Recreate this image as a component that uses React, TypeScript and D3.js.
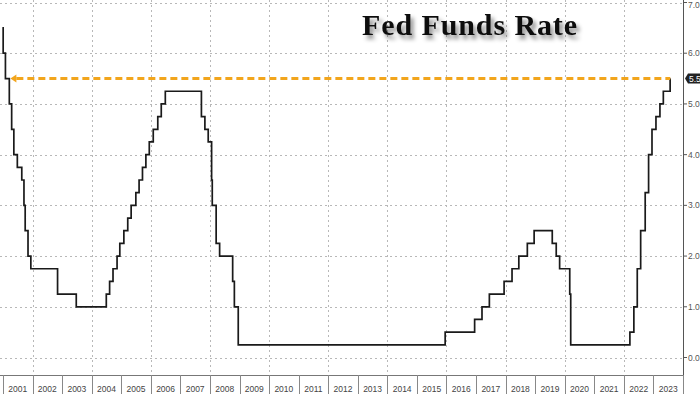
import React from 'react';
import * as d3 from 'd3';

// Fed funds target (upper bound), date of each change and the new rate
const changeDates = [
  '2000-12-24', '2001-01-03', '2001-01-31', '2001-03-20', '2001-04-18', '2001-05-15', '2001-06-27',
  '2001-08-21', '2001-09-17', '2001-10-02', '2001-11-06', '2001-12-11', '2002-11-06', '2003-06-25',
  '2004-06-30', '2004-08-10', '2004-09-21', '2004-11-10', '2004-12-14', '2005-02-02', '2005-03-22',
  '2005-05-03', '2005-06-30', '2005-08-09', '2005-09-20', '2005-11-01', '2005-12-13', '2006-01-31',
  '2006-03-28', '2006-05-10', '2006-06-29', '2007-09-18', '2007-10-31', '2007-12-11', '2008-01-22',
  '2008-01-30', '2008-03-18', '2008-04-30', '2008-10-08', '2008-10-29', '2008-12-16', '2015-12-16',
  '2016-12-14', '2017-03-15', '2017-06-14', '2017-12-13', '2018-03-21', '2018-06-13', '2018-09-26',
  '2018-12-19', '2019-07-31', '2019-09-18', '2019-10-30', '2020-03-03', '2020-03-15', '2022-03-16',
  '2022-05-04', '2022-06-15', '2022-07-27', '2022-09-21', '2022-11-02', '2022-12-14', '2023-02-01',
  '2023-03-22', '2023-05-03', '2023-07-26',
];
const rates = [
  6.5, 6.0, 5.5, 5.0, 4.5, 4.0, 3.75,
  3.5, 3.0, 2.5, 2.0, 1.75, 1.25, 1.0,
  1.25, 1.5, 1.75, 2.0, 2.25, 2.5, 2.75,
  3.0, 3.25, 3.5, 3.75, 4.0, 4.25, 4.5,
  4.75, 5.0, 5.25, 4.75, 4.5, 4.25, 3.5,
  3.0, 2.25, 2.0, 1.5, 1.0, 0.25, 0.5,
  0.75, 1.0, 1.25, 1.5, 1.75, 2.0, 2.25,
  2.5, 2.25, 2.0, 1.75, 1.25, 0.25, 0.5,
  1.0, 1.75, 2.5, 3.25, 4.0, 4.5, 4.75,
  5.0, 5.25, 5.5,
];
const lastDate = '2023-07-27';
const years = d3.range(2001, 2024);
const yTicks = [0, 1, 2, 3, 4, 5, 6, 7];
const currentRate = 5.5;
const title = 'Fed Funds Rate';

const W = 700;
const H = 394;
const plotRight = 683;
const axisY = 375;

const App = () => {
  const parse = d3.timeParse('%Y-%m-%d');
  const x = d3.scaleTime()
    .domain([new Date(2001, 0, 1), new Date(2024, 0, 1)])
    .range([3, plotRight]);
  const y = d3.scaleLinear().domain([0, 7]).range([357.5, 2.5]);

  const data = changeDates.map((d, i) => ({ date: parse(d) as Date, rate: rates[i] }));
  data.push({ date: parse(lastDate) as Date, rate: rates[rates.length - 1] });

  const line = d3.line<{ date: Date; rate: number }>()
    .x(d => x(d.date))
    .y(d => y(d.rate))
    .curve(d3.curveStepAfter);

  const yr = (v: number) => x(new Date(v, 0, 1));
  const dashStart = x(parse('2001-06-15') as Date);
  const dashEnd = x(parse(lastDate) as Date);
  const yCur = y(currentRate);

  return (
    <svg width={W} height={H} style={{ position: 'absolute', left: 0, top: 0, background: '#fff' }}>
      <defs>
        <filter id="shadow" x="-10%" y="-30%" width="130%" height="180%">
          <feDropShadow dx="3" dy="4" stdDeviation="2" floodColor="#000" floodOpacity="0.45" />
        </filter>
        <filter id="glow" x="-5%" y="-200%" width="110%" height="500%">
          <feGaussianBlur stdDeviation="0.6" />
        </filter>
      </defs>

      {/* grid */}
      <g stroke="#b8b8b8" strokeWidth={1} strokeDasharray="2,3">
        {yTicks.map(t => (
          <line key={t} x1={0} x2={plotRight} y1={Math.round(y(t)) + 0.5} y2={Math.round(y(t)) + 0.5} />
        ))}
        {years.filter(v => v % 2 === 0).map(v => (
          <line key={v} x1={Math.round(yr(v)) + 0.5} x2={Math.round(yr(v)) + 0.5} y1={0} y2={axisY} />
        ))}
      </g>

      {/* title */}
      <text x={362} y={35} fontFamily="'Liberation Serif', serif" fontWeight="bold" fontSize={30}
        letterSpacing={0.9} fill="#111" filter="url(#shadow)">{title}</text>

      {/* rate line */}
      <path d={line(data) || ''} fill="none" stroke="#1a1a1a" strokeWidth={1.7} />

      {/* current level dashed marker */}
      <g filter="url(#glow)">
        <line x1={dashStart} x2={dashEnd} y1={yCur} y2={yCur} stroke="#f2a51d" strokeWidth={3}
          strokeDasharray="7,4" />
        <path d={`M${dashStart - 6},${yCur} L${dashStart},${yCur - 4} L${dashStart},${yCur + 4} Z`} fill="#f2a51d" />
      </g>

      {/* x axis */}
      <line x1={0} x2={plotRight} y1={axisY + 0.5} y2={axisY + 0.5} stroke="#777" />
      {years.concat([2024]).map(v => (
        <line key={v} x1={Math.round(yr(v)) + 0.5} x2={Math.round(yr(v)) + 0.5} y1={axisY} y2={H} stroke="#888" />
      ))}
      {years.map(v => (
        <text key={v} x={(yr(v) + yr(v + 1)) / 2} y={392} textAnchor="middle"
          fontFamily="'Liberation Sans', sans-serif" fontSize={8.5} fill="#444">{v}</text>
      ))}

      {/* right axis */}
      <line x1={plotRight + 0.5} x2={plotRight + 0.5} y1={0} y2={axisY} stroke="#555" />
      {yTicks.map(t => (
        <g key={t} transform={`translate(${plotRight},${y(t)})`}>
          <line x1={0} x2={4} stroke="#555" />
          <text x={5} y={t === 7 ? 5 : 3} fontFamily="'Liberation Sans', sans-serif" fontSize={8.5} fill="#555">{t.toFixed(1)}</text>
        </g>
      ))}
      <g transform={`translate(${plotRight + 2},${yCur})`}>
        <path d="M0,0 L3,-5 L20,-5 L20,5 L3,5 Z" fill="#222" />
        <text x={4} y={3} fontFamily="'Liberation Sans', sans-serif" fontSize={8.5} fill="#fff">{currentRate.toFixed(1)}</text>
      </g>
    </svg>
  );
};

export default App;
